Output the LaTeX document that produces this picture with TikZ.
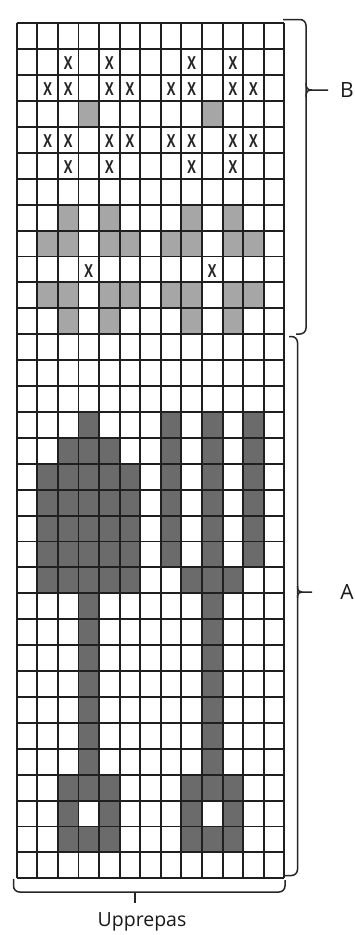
\documentclass[tikz,border=0pt]{standalone}
\usepackage{fontspec}
\setmainfont{Open Sans}
\begin{document}
\begin{tikzpicture}[x=1pt,y=-1pt,
  gridline/.style={line width=1.9pt,draw=black!88},
  darkcell/.style={fill=black!58},
  lightcell/.style={fill=black!35},
  bracepath/.style={line width=1.5pt,draw=black!85,rounded corners=6pt},
  xmark/.style={font=\bfseries\fontsize{18}{18}\selectfont,inner sep=0pt,text=black!85},
  lbl/.style={font=\fontsize{21}{21}\selectfont,inner sep=0pt,text=black!90}]
\useasboundingbox[fill=white] (0,0) rectangle (354,935);
\def\gx{16.7}\def\gy{23.3}\def\cw{20.585}\def\ch{25.91}
% light cells
\foreach \r/\cols in {3/{3,9},7/{2,4,8,10},8/{1,2,4,5,7,8,10,11},10/{1,2,4,5,7,8,10,11},11/{2,4,8,10}}{
  \foreach \c in \cols {
    \fill[lightcell] ({\gx+\c*\cw},{\gy+\r*\ch}) rectangle ({\gx+(\c+1)*\cw},{\gy+(\r+1)*\ch});
  }
}
% dark cells
\foreach \r/\cols in {15/{3,7,9,11},16/{2,3,4,7,9,11},17/{1,2,3,4,5,7,9,11},18/{1,2,3,4,5,7,9,11},19/{1,2,3,4,5,7,9,11},20/{1,2,3,4,5,7,9,11},21/{1,2,3,4,5,8,9,10},22/{3,9},23/{3,9},24/{3,9},25/{3,9},26/{3,9},27/{3,9},28/{3,9},29/{2,3,4,8,9,10},30/{2,4,8,10},31/{2,3,4,8,9,10}}{
  \foreach \c in \cols {
    \fill[darkcell] ({\gx+\c*\cw},{\gy+\r*\ch}) rectangle ({\gx+(\c+1)*\cw},{\gy+(\r+1)*\ch});
  }
}
% grid
\foreach \c in {0,...,13}{
  \draw[gridline] ({\gx+\c*\cw},\gy) -- ({\gx+\c*\cw},{\gy+33*\ch});
}
\foreach \r in {0,...,33}{
  \draw[gridline] (\gx,{\gy+\r*\ch}) -- ({\gx+13*\cw},{\gy+\r*\ch});
}
% X marks
\foreach \r/\cols in {1/{2,4,8,10},2/{1,2,4,5,7,8,10,11},4/{1,2,4,5,7,8,10,11},5/{2,4,8,10},9/{3,9}}{
  \foreach \c in \cols {
    \node[xmark] (x\r-\c) at ({\gx+(\c+0.5)*\cw},{\gy+(\r+0.55)*\ch}) {\scalebox{0.72}[1]{X}};
  }
}
% brace B
\draw[bracepath] (283,19.5) -- (306,19.5) -- (306,334) -- (296,334);
\draw[line width=1.5pt,draw=black!85] (306,83) .. controls (306,89) and (308,90) .. (312,90)
  (306,97) .. controls (306,91) and (308,90) .. (312,90) -- (328,90);
\node[lbl] (lb) at (347,90) {B};
% brace A
\draw[bracepath] (289,336.5) -- (297.5,336.5) -- (297.5,875.5) -- (285,875.5);
\draw[line width=1.5pt,draw=black!85] (297.5,586) .. controls (297.5,591) and (299,592) .. (302,592)
  (297.5,598) .. controls (297.5,593) and (299,592) .. (302,592) -- (312,592);
\node[lbl] (la) at (347,592) {A};
% bottom brace
\draw[bracepath] (13.5,879) -- (13.5,892) -- (285,892) -- (285,880);
\draw[line width=1.5pt,draw=black!85] (135,892) -- (135,903);
\node[font=\fontsize{19.5}{19.5}\selectfont,inner sep=0pt,text=black!90] (lu) at (142,922) {Upprepas};
\end{tikzpicture}
\end{document}
